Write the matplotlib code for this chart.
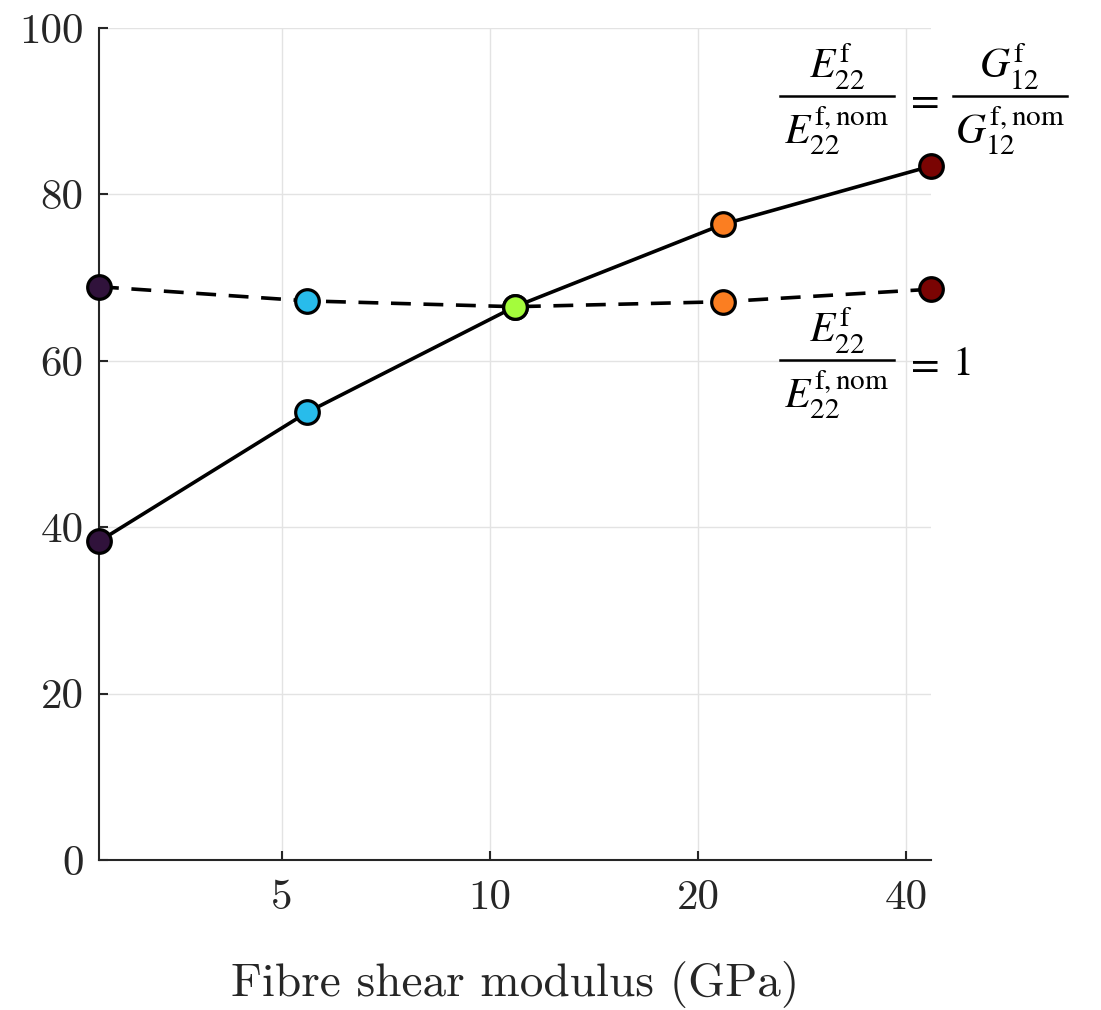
import matplotlib
matplotlib.use("Agg")
import matplotlib.pyplot as plt
from matplotlib.ticker import FixedLocator, NullLocator

plt.rcParams['font.family'] = 'serif'
plt.rcParams['font.serif'] = ['cmr10']
plt.rcParams['mathtext.fontset'] = 'cm'
plt.rcParams['axes.unicode_minus'] = False

# fibre shear modulus (GPa), log-spaced
shear_modulus = [2.72, 5.44, 10.87, 21.74, 43.48]
# curve where E22 scales together with G12
scaled_E22 = [38.3, 53.8, 66.5, 76.4, 83.4]
# curve with nominal E22
nominal_E22 = [68.9, 67.2, 66.5, 67.1, 68.6]

x_ticks = [5, 10, 20, 40]
y_ticks = [0, 20, 40, 60, 80, 100]

cmap = plt.get_cmap('turbo')
colors = [cmap(v) for v in [0.0, 0.25, 0.5, 0.75, 1.0]]

fig = plt.figure(figsize=(11.01, 10.10), dpi=100)
ax = fig.add_axes([0.0899, 0.1485, 0.7557, 0.8238])

ax.set_xscale('log')
ax.set_xlim(shear_modulus[0], shear_modulus[-1])
ax.set_ylim(0, 100)

ax.plot(shear_modulus, scaled_E22, color='black', lw=2.6, zorder=3, clip_on=False)
ax.plot(shear_modulus, nominal_E22, color='black', lw=2.6, ls=(0, (5.5, 3.5)), zorder=3, clip_on=False)
for ys in [scaled_E22, nominal_E22]:
    for x, y, c in zip(shear_modulus, ys, colors):
        ax.plot(x, y, 'o', ms=17, mfc=c, mec='black', mew=2.3, zorder=4, clip_on=False)

ax.xaxis.set_major_locator(FixedLocator(x_ticks))
ax.xaxis.set_minor_locator(NullLocator())
ax.set_xticklabels([str(t) for t in x_ticks])
ax.set_yticks(y_ticks)
ax.set_yticklabels([str(t) for t in y_ticks])

ax.tick_params(direction='in', length=6.5, width=1.5, colors='#262626',
               labelsize=31, pad=11)
ax.tick_params(axis='x', pad=14)
for side in ['top', 'right']:
    ax.spines[side].set_visible(False)
for side in ['left', 'bottom']:
    ax.spines[side].set_color('#262626')
    ax.spines[side].set_linewidth(1.5)

ax.grid(True, color='#e3e3e3', lw=1)
ax.set_axisbelow(True)

ax.set_xlabel('Fibre shear modulus (GPa)', fontsize=34, color='#262626', labelpad=32)

# hand-built fractions for the curve labels
tr = ax.get_yaxis_transform()
FS = 30


def fraction(cx, ybar, num, den, half=0.0685):
    ax.plot([cx - half, cx + half], [ybar, ybar], color='black', lw=1.8,
            transform=tr, clip_on=False)
    ax.annotate(num, xy=(cx, ybar), xycoords=tr, xytext=(0, 3),
                textcoords='offset points', ha='center', va='bottom',
                fontsize=FS, math_fontfamily='stix', annotation_clip=False)
    ax.annotate(den, xy=(cx, ybar), xycoords=tr, xytext=(0, -6),
                textcoords='offset points', ha='center', va='top',
                fontsize=FS, math_fontfamily='stix', annotation_clip=False)


def plain(cx, ybar, s):
    ax.text(cx, ybar, s, transform=tr, ha='center', va='center_baseline',
            fontsize=FS, math_fontfamily='stix')


E_num = r'$E_{22}^{\mathrm{f}}$'
E_den = r'$E_{22}^{\mathrm{f,nom}}$'
G_num = r'$G_{12}^{\mathrm{f}}$'
G_den = r'$G_{12}^{\mathrm{f,nom}}$'

y_top = 91.8
fraction(0.887, y_top, E_num, E_den)
plain(0.988, y_top, r'$=$')
fraction(1.0945, y_top, G_num, G_den)

y_bot = 60.1
fraction(0.887, y_bot, E_num, E_den)
plain(0.988, y_bot, r'$=$')
plain(1.036, y_bot, r'$1$')

fig.savefig('out.png', dpi=100)
